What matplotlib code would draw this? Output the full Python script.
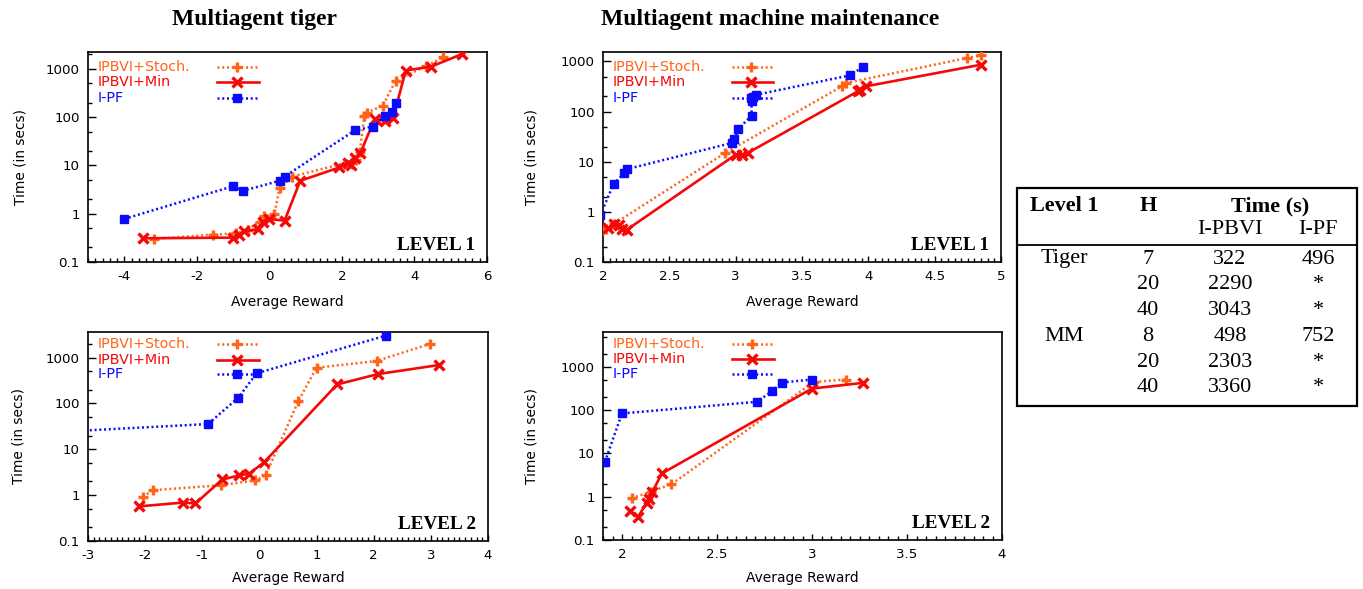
import matplotlib
matplotlib.use("Agg")
import matplotlib.pyplot as plt
from matplotlib.ticker import MultipleLocator, LogLocator, FixedLocator, NullFormatter, FuncFormatter
from matplotlib.lines import Line2D
from matplotlib.patches import Rectangle

# ---------------- data ----------------
series_names = ["IPBVI+Stoch.", "IPBVI+Min", "I-PF"]

# Multiagent tiger, level 1
t1_stoch_x = [-3.19, -1.56, -0.92, -0.60, -0.27, -0.16, 0.14, 0.28, 0.63, 2.38, 2.49, 2.62, 2.70, 3.13, 3.48, 4.33, 4.79]
t1_stoch_y = [0.30, 0.37, 0.39, 0.47, 0.69, 0.88, 1.0, 3.4, 5.9, 12.7, 18.6, 107, 125, 174, 573, 1150, 1740]
t1_min_x = [-3.49, -1.01, -0.83, -0.69, -0.32, -0.18, -0.02, 0.42, 0.85, 1.93, 2.16, 2.26, 2.35, 2.51, 2.90, 3.18, 3.41, 3.76, 4.46, 5.32]
t1_min_y = [0.31, 0.32, 0.37, 0.43, 0.48, 0.66, 0.78, 0.72, 4.8, 9.1, 11.2, 10.0, 14.2, 18.0, 91, 84, 95, 925, 1117, 2040]
t1_pf_x = [-4.0, -1.01, -0.72, 0.28, 0.42, 2.35, 2.85, 3.18, 3.39, 3.48]
t1_pf_y = [0.78, 3.7, 3.0, 4.8, 5.9, 53, 64, 107, 131, 195]

# Multiagent machine maintenance, level 1
m1_stoch_x = [1.99, 2.02, 2.08, 2.92, 3.80, 3.83, 4.74, 4.85]
m1_stoch_y = [0.43, 0.46, 0.57, 14.9, 318, 370, 1165, 1320]
m1_min_x = [2.04, 2.08, 2.12, 2.14, 2.18, 3.00, 3.05, 3.09, 3.92, 3.94, 3.98, 4.85]
m1_min_y = [0.48, 0.57, 0.55, 0.46, 0.44, 13.8, 13.8, 14.9, 252, 270, 318, 860]
m1_pf_x = [1.98, 2.08, 2.16, 2.18, 2.97, 2.99, 3.02, 3.12, 3.12, 3.13, 3.15, 3.86, 3.96]
m1_pf_y = [0.86, 3.6, 5.9, 7.1, 23.6, 28, 45, 83, 160, 195, 215, 526, 771]

# Multiagent tiger, level 2
t2_stoch_x = [-2.04, -1.87, -0.67, -0.07, 0.11, 0.68, 1.00, 2.05, 2.98]
t2_stoch_y = [0.92, 1.28, 1.65, 2.1, 2.7, 113, 604, 845, 1990]
t2_min_x = [-2.10, -1.34, -1.12, -0.65, -0.35, -0.18, 0.08, 1.36, 2.08, 3.14]
t2_min_y = [0.57, 0.69, 0.66, 2.2, 2.7, 2.95, 5.2, 261, 440, 690]
t2_pf_x = [-3.3, -0.90, -0.37, -0.05, 2.21]
t2_pf_y = [24.8, 35.6, 134, 455, 3030]

# Multiagent machine maintenance, level 2
m2_stoch_x = [2.05, 2.15, 2.26, 3.01, 3.18]
m2_stoch_y = [0.92, 1.3, 1.93, 450, 510]
m2_min_x = [2.04, 2.085, 2.13, 2.14, 2.16, 2.21, 3.00, 3.27]
m2_min_y = [0.475, 0.345, 0.73, 0.9, 1.3, 3.45, 316, 428]
m2_pf_x = [1.91, 2.00, 2.71, 2.79, 2.84, 3.00]
m2_pf_y = [6.4, 84, 156, 274, 435, 510]

# table
table_header1 = ["Level 1", "H", "Time (s)"]
table_header2 = ["I-PBVI", "I-PF"]
table_domain = ["Tiger", "", "", "MM", "", ""]
table_h = ["7", "20", "40", "8", "20", "40"]
table_ipbvi = ["322", "2290", "3043", "498", "2303", "3360"]
table_ipf = ["496", "*", "*", "752", "*", "*"]

titles = ["Multiagent tiger", "Multiagent machine maintenance"]
level_labels = ["LEVEL 1", "LEVEL 2"]

# ---------------- style ----------------
W, H = 1363, 589
C_ORANGE = "#ff6418"
C_RED = "#f50808"
C_BLUE = "#0a0aff"
SANS = "DejaVu Sans"
SERIF = "Liberation Serif"
FS = 9.6
DOT = (0, (0.8, 1.1))

plt.rcParams["font.family"] = SANS


def fx(px):
    return px / W


def fy(py):
    return 1 - py / H


fig = plt.figure(figsize=(W / 100, H / 100), dpi=100)


def make_ax(l, r, t, b):
    return fig.add_axes([fx(l), fy(b), fx(r) - fx(l), (b - t) / H])


panels = [
    dict(box=(88, 487, 52, 262), xlim=(-5, 6), ylim=(0.1, 2240), major=[-4, -2, 0, 2, 4, 6], minor=0.2,
         data=[(t1_stoch_x, t1_stoch_y), (t1_min_x, t1_min_y), (t1_pf_x, t1_pf_y)], level=0,
         leg=[0.07, 0.142, 0.218], ylab=-0.17, xlab=-0.189),
    dict(box=(603, 1001, 52, 262), xlim=(2, 5), ylim=(0.1, 1540), major=[2, 2.5, 3, 3.5, 4, 4.5, 5], minor=0.05,
         data=[(m1_stoch_x, m1_stoch_y), (m1_min_x, m1_min_y), (m1_pf_x, m1_pf_y)], level=0,
         leg=[0.07, 0.142, 0.218], ylab=-0.179, xlab=-0.189),
    dict(box=(88, 488, 332, 541), xlim=(-3, 4), ylim=(0.1, 3630), major=[-3, -2, -1, 0, 1, 2, 3, 4], minor=0.1,
         data=[(t2_stoch_x, t2_stoch_y), (t2_min_x, t2_min_y), (t2_pf_x, t2_pf_y)], level=1,
         leg=[0.057, 0.132, 0.2], ylab=-0.174, xlab=-0.177),
    dict(box=(603, 1002, 332, 540), xlim=(1.9, 4), ylim=(0.1, 6400), major=[2, 2.5, 3, 3.5, 4], minor=0.05,
         data=[(m2_stoch_x, m2_stoch_y), (m2_min_x, m2_min_y), (m2_pf_x, m2_pf_y)], level=1,
         leg=[0.057, 0.132, 0.2], ylab=-0.179, xlab=-0.184),
]

styles = [
    dict(color=C_ORANGE, ls=DOT, lw=1.8, marker="+", ms=7, mew=2.4),
    dict(color=C_RED, ls="-", lw=1.9, marker="x", ms=6.5, mew=2.4),
    dict(color=C_BLUE, ls=DOT, lw=1.8, marker="s", ms=5.8, mew=1.0),
]


def fmt_y(v, pos):
    if v >= 1:
        return "%d" % round(v)
    return "%g" % v


for p in panels:
    ax = make_ax(*p["box"])
    ax.set_yscale("log")
    ax.set_xlim(*p["xlim"])
    ax.set_ylim(*p["ylim"])
    for (xs, ys), st in zip(p["data"], styles):
        ax.plot(xs, ys, color=st["color"], linestyle=st["ls"], linewidth=st["lw"],
                marker=st["marker"], markersize=st["ms"], markeredgewidth=st["mew"],
                markerfacecolor=st["color"], markeredgecolor=st["color"], zorder=3)
    ax.xaxis.set_major_locator(FixedLocator(p["major"]))
    ax.xaxis.set_minor_locator(MultipleLocator(p["minor"]))
    ax.xaxis.set_major_formatter(FuncFormatter(lambda v, pos: "%g" % v))
    ax.yaxis.set_major_locator(FixedLocator([0.1, 1, 10, 100, 1000]))
    ax.yaxis.set_minor_locator(LogLocator(base=10, subs=(2.0, 5.0), numticks=20))
    ax.yaxis.set_minor_formatter(NullFormatter())
    ax.yaxis.set_major_formatter(FuncFormatter(fmt_y))
    ax.tick_params(which="both", direction="in", top=False, right=False, labelsize=FS, width=1.0, color="black")
    ax.tick_params(axis="x", which="major", length=4.5, pad=6)
    ax.tick_params(axis="y", which="major", length=5.5, pad=6)
    ax.tick_params(which="minor", length=2.8)
    for s in ax.spines.values():
        s.set_linewidth(1.2)
    # axis labels
    ax.text(p["ylab"], 0.5, "Time (in secs)", transform=ax.transAxes, rotation=90,
            ha="center", va="center", fontsize=FS + 0.3)
    ax.text(0.5, p["xlab"], "Average Reward", transform=ax.transAxes,
            ha="center", va="center", fontsize=FS + 0.3)
    # level label
    ax.text(0.97, 0.057, level_labels[p["level"]], transform=ax.transAxes, ha="right", va="baseline",
            fontsize=13.8, fontweight="bold", family=SERIF)
    # legend (gnuplot style: text left, sample right)
    for name, st, yy in zip(series_names, styles, p["leg"]):
        ax.text(0.024, 1 - yy, name, transform=ax.transAxes, ha="left", va="center",
                fontsize=FS + 0.7, color=st["color"])
        ln = Line2D([0.323, 0.373, 0.428], [1 - yy] * 3, transform=ax.transAxes, color=st["color"],
                    linestyle=st["ls"], linewidth=st["lw"], marker=st["marker"], markevery=[1],
                    markersize=st["ms"], markeredgewidth=st["mew"], markerfacecolor=st["color"],
                    markeredgecolor=st["color"], zorder=4)
        ax.add_line(ln)

# titles
fig.text(fx(255), fy(19), titles[0], ha="center", va="center", fontsize=17, fontweight="bold", family=SERIF)
fig.text(fx(770), fy(19), titles[1], ha="center", va="center", fontsize=17, fontweight="bold", family=SERIF)

# table
TFS = 16
fig.add_artist(Rectangle((fx(1017), fy(406)), fx(1357) - fx(1017), (406 - 188) / H, transform=fig.transFigure,
                         fill=False, edgecolor="black", linewidth=1.6))
fig.add_artist(Line2D([fx(1017), fx(1357)], [fy(245), fy(245)], transform=fig.transFigure,
                      color="black", linewidth=1.3))
col_x = [1064, 1148, 1230, 1318]
fig.text(fx(col_x[0]), fy(206), table_header1[0], ha="center", va="center", fontsize=TFS, fontweight="bold", family=SERIF)
fig.text(fx(col_x[1]), fy(206), table_header1[1], ha="center", va="center", fontsize=TFS, fontweight="bold", family=SERIF)
fig.text(fx(1270), fy(206), table_header1[2], ha="center", va="center", fontsize=TFS, fontweight="bold", family=SERIF)
fig.text(fx(col_x[2]), fy(230), table_header2[0], ha="center", va="center", fontsize=TFS, family=SERIF)
fig.text(fx(col_x[3]), fy(230), table_header2[1], ha="center", va="center", fontsize=TFS, family=SERIF)
for i in range(len(table_h)):
    yy = 259 + i * 25.8
    for cx, col in zip(col_x, [table_domain, table_h, table_ipbvi, table_ipf]):
        if col[i]:
            fig.text(fx(cx), fy(yy), col[i], ha="center", va="center", fontsize=TFS, family=SERIF)

fig.savefig("out.png", dpi=100)
